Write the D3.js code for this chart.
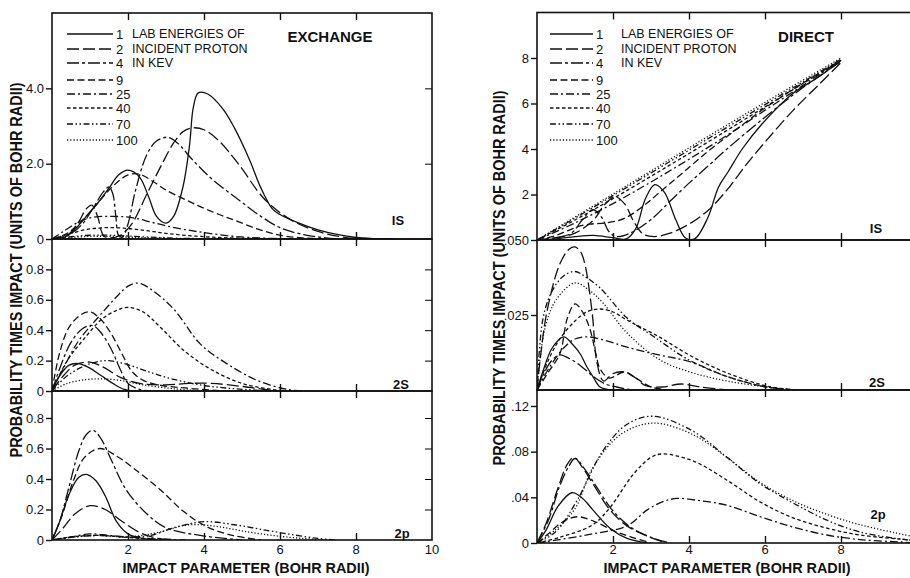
<!DOCTYPE html>
<html>
<head>
<meta charset="utf-8">
<script src="https://cdn.jsdelivr.net/npm/d3@7"></script>
<style>
  body { margin: 0; background: #fff; }
  text { font-family: "Liberation Sans", "DejaVu Sans", sans-serif; fill: #111; }
</style>
</head>
<body>
<script>
var width = 910;
var height = 578;

// lab energies of incident proton (keV), one curve each
var energies = ["1", "2", "4", "9", "25", "40", "70", "100"];

// [impact parameter, probability x impact], order = energies
var exch1S = [
  [[0,0],[0.3,0.03],[0.6,0.25],[0.9,0.6],[1.2,0.95],[1.5,1.35],[1.75,1.7],[2.0,1.83],[2.3,1.65],[2.55,1.1],[2.75,0.6],[3.0,0.42],[3.2,0.6],[3.45,1.4],[3.62,2.5],[3.72,3.5],[3.85,3.88],[4.1,3.85],[4.5,3.45],[4.8,2.95],[5.2,2.1],[5.5,1.35],[5.8,0.8],[6.0,0.65],[6.5,0.42],[7.0,0.24],[7.5,0.12],[8.0,0.04],[8.5,0.01],[9,0]],
  [[0,0],[0.4,0.1],[0.7,0.45],[0.9,0.8],[1.05,0.9],[1.2,0.6],[1.35,0.1],[1.5,0.03],[1.8,0.1],[2.1,0.4],[2.5,1.2],[2.9,2.0],[3.2,2.55],[3.45,2.85],[3.7,2.95],[4.0,2.9],[4.4,2.6],[4.9,2.0],[5.6,1.05],[6.3,0.5],[7.0,0.2],[7.6,0.06],[8.2,0]],
  [[0,0],[0.4,0.08],[0.8,0.4],[1.1,0.85],[1.35,1.25],[1.5,1.38],[1.6,1.2],[1.68,0.6],[1.75,0.1],[1.85,0.05],[2.0,0.4],[2.2,1.3],[2.5,2.25],[2.75,2.6],[3.05,2.7],[3.3,2.55],[3.7,2.1],[4.2,1.6],[4.9,1.05],[5.5,0.6],[6.0,0.3],[6.6,0.12],[7.2,0.03],[7.6,0]],
  [[0,0],[0.4,0.15],[0.8,0.5],[1.2,0.95],[1.6,1.4],[2.0,1.7],[2.3,1.72],[2.7,1.5],[3.0,1.3],[3.5,1.05],[3.9,0.86],[4.4,0.65],[4.8,0.5],[5.4,0.27],[6.0,0.1],[6.6,0.03],[7.2,0]],
  [[0,0],[0.3,0.2],[0.7,0.45],[1.1,0.58],[1.6,0.6],[2.1,0.57],[2.6,0.45],[3.0,0.35],[3.5,0.25],[4.0,0.17],[4.6,0.09],[5.2,0.04],[6.0,0.01],[6.5,0]],
  [[0,0],[0.4,0.12],[0.9,0.25],[1.4,0.3],[2.0,0.28],[2.5,0.22],[3.0,0.15],[3.6,0.09],[4.2,0.05],[5.0,0.02],[6.0,0]],
  [[0,0],[0.5,0.06],[1.0,0.1],[1.5,0.1],[2.0,0.08],[2.6,0.05],[3.3,0.02],[4.0,0.01],[5,0]],
  [[0,0],[0.5,0.04],[1.0,0.07],[1.5,0.07],[2.0,0.05],[2.6,0.03],[3.3,0.01],[4,0]]
];

var exch2S = [
  [[0,0],[0.2,0.1],[0.45,0.17],[0.7,0.18],[1.0,0.15],[1.3,0.1],[1.6,0.05],[1.9,0.01],[2.2,0]],
  [[0,0],[0.3,0.1],[0.6,0.17],[1.0,0.19],[1.4,0.15],[1.8,0.09],[2.3,0.05],[3.0,0.04],[3.6,0.05],[4.2,0.05],[5.0,0.03],[5.6,0.01],[6,0]],
  [[0,0],[0.25,0.18],[0.5,0.32],[0.8,0.41],[1.08,0.43],[1.3,0.38],[1.55,0.28],[1.8,0.14],[2.0,0.05],[2.3,0.01],[2.6,0]],
  [[0,0],[0.2,0.25],[0.45,0.42],[0.75,0.5],[1.0,0.52],[1.25,0.48],[1.55,0.38],[1.85,0.24],[2.1,0.13],[2.4,0.07],[2.8,0.04],[3.5,0.02],[4.5,0]],
  [[0,0],[0.3,0.15],[0.7,0.33],[1.2,0.48],[1.7,0.62],[2.0,0.69],[2.27,0.71],[2.6,0.67],[3.2,0.54],[3.9,0.31],[4.6,0.18],[5.4,0.07],[6.2,0.01],[6.8,0]],
  [[0,0],[0.4,0.2],[0.8,0.33],[1.3,0.47],[1.7,0.53],[2.0,0.55],[2.4,0.52],[2.85,0.42],[3.5,0.26],[4.2,0.14],[5.0,0.05],[5.8,0.01],[6.2,0]],
  [[0,0],[0.4,0.1],[0.9,0.17],[1.4,0.2],[1.9,0.18],[2.5,0.13],[3.0,0.09],[3.9,0.04],[4.8,0.015],[5.8,0]],
  [[0,0],[0.4,0.05],[0.9,0.075],[1.3,0.08],[1.8,0.07],[2.4,0.04],[3.2,0.015],[4,0]]
];

var exch2p = [
  [[0,0],[0.2,0.12],[0.45,0.3],[0.7,0.41],[0.9,0.43],[1.15,0.39],[1.4,0.29],[1.7,0.12],[2.0,0.04],[2.4,0.01],[2.8,0]],
  [[0,0],[0.3,0.08],[0.6,0.17],[1.0,0.225],[1.4,0.2],[1.8,0.13],[2.3,0.05],[2.8,0.01],[3.2,0]],
  [[0,0],[0.2,0.12],[0.45,0.35],[0.7,0.58],[0.9,0.69],[1.08,0.72],[1.3,0.66],[1.55,0.53],[1.95,0.33],[2.5,0.17],[3.0,0.08],[3.9,0.03],[5.0,0]],
  [[0,0],[0.25,0.15],[0.55,0.38],[0.85,0.54],[1.26,0.6],[1.7,0.55],[2.15,0.47],[2.85,0.33],[3.45,0.19],[4.05,0.09],[4.75,0.03],[5.5,0]],
  [[0,0],[0.5,0.02],[1.0,0.04],[1.5,0.03],[2.2,0.015],[3.0,0.005],[3.5,0]],
  [[0,0],[0.5,0.02],[1.1,0.03],[1.6,0.025],[2.3,0.01],[3.0,0]],
  [[0,0],[0.6,0.02],[1.2,0.03],[2.0,0.02],[2.6,0.03],[3.2,0.08],[4.0,0.12],[4.8,0.1],[5.5,0.07],[6.2,0.04],[7.0,0.01],[7.5,0]],
  [[0,0],[0.6,0.02],[1.2,0.03],[2.0,0.02],[2.8,0.05],[3.6,0.1],[4.3,0.09],[5.0,0.06],[5.8,0.03],[6.6,0.01],[7.2,0]]
];

var direct1S = [
  [[0,0],[0.5,0.05],[1.0,0.15],[1.5,0.2],[2.0,0.1],[2.35,0.05],[2.6,0.5],[2.85,1.8],[3.1,2.43],[3.35,2.1],[3.65,0.9],[3.9,0.1],[4.15,0.05],[4.5,1.0],[4.77,2.3],[5.03,3.0],[5.4,4.0],[5.92,5.1],[6.74,6.45],[7.4,7.15],[8.0,7.9]],
  [[0,0],[0.5,0.1],[1.0,0.3],[1.5,0.9],[1.75,1.5],[2.05,1.9],[2.3,1.6],[2.55,0.8],[2.8,0.25],[3.1,0.15],[3.5,0.3],[4.0,0.7],[4.5,1.3],[5.0,2.2],[5.5,3.3],[6.0,4.3],[6.74,5.7],[7.4,6.8],[8.0,7.8]],
  [[0,0],[0.5,0.1],[0.9,0.3],[1.2,0.9],[1.47,1.33],[1.7,1.0],[1.9,0.35],[2.1,0.15],[2.45,0.3],[3.0,0.9],[3.5,1.7],[4.0,2.5],[4.5,3.25],[5.0,4.0],[6.0,5.4],[7.0,6.7],[8.0,7.85]],
  [[0,0],[0.4,0.15],[0.8,0.4],[1.1,0.6],[1.4,0.7],[1.8,0.75],[2.3,0.95],[2.8,1.5],[3.3,2.2],[3.8,2.9],[4.5,3.9],[5.2,4.8],[6.0,5.8],[7.0,6.9],[8.0,7.9]],
  [[0,0],[1,0.75],[2,1.6],[3,2.55],[4,3.55],[5,4.6],[6,5.7],[7,6.8],[8,7.9]],
  [[0,0],[1,0.88],[2,1.82],[3,2.8],[4,3.8],[5,4.82],[6,5.85],[7,6.88],[8,7.92]],
  [[0,0],[1,0.96],[2,1.95],[3,2.95],[4,3.95],[5,4.95],[6,5.95],[7,6.95],[8,7.95]],
  [[0,0],[2,2.02],[4,4.05],[6,6.05],[8,8.0]]
];

var direct2S = [
  [[0,0],[0.15,0.006],[0.4,0.014],[0.7,0.0177],[0.95,0.015],[1.14,0.012],[1.3,0.008],[1.48,0.0043],[1.66,0.001],[2.0,0]],
  [[0,0],[0.1,0.012],[0.26,0.026],[0.6,0.042],[0.85,0.047],[1.0,0.0477],[1.15,0.046],[1.26,0.042],[1.45,0.026],[1.58,0.009],[1.75,0.003],[2.0,0.0055],[2.3,0.006],[2.6,0.004],[2.85,0.0015],[3.3,0.001],[3.8,0.002],[4.3,0.001],[5,0]],
  [[0,0],[0.2,0.006],[0.4,0.01],[0.6,0.0117],[0.85,0.0105],[1.05,0.009],[1.3,0.0065],[1.5,0.0043],[1.8,0.002],[2.1,0.001],[2.5,0]],
  [[0,0],[0.3,0.006],[0.6,0.012],[0.8,0.024],[1.0,0.0287],[1.2,0.026],[1.4,0.02],[1.55,0.012],[1.66,0.007],[1.9,0.004],[2.3,0.006],[2.6,0.004],[3.0,0.001],[3.5,0]],
  [[0,0],[0.3,0.007],[0.7,0.014],[1.0,0.017],[1.35,0.0177],[1.8,0.0165],[2.37,0.0143],[3.2,0.0117],[4.0,0.0095],[5.0,0.0045],[5.9,0.0013],[6.6,0]],
  [[0,0],[0.3,0.01],[0.6,0.017],[1.0,0.023],[1.3,0.026],[1.66,0.027],[2.0,0.026],[2.37,0.0233],[3.2,0.0178],[4.1,0.011],[5.0,0.0057],[6.05,0.0013],[6.8,0]],
  [[0,0],[0.16,0.024],[0.4,0.033],[0.7,0.038],[1.0,0.0395],[1.3,0.0375],[1.66,0.034],[2.37,0.024],[3.05,0.018],[4.0,0.01],[5.0,0.0045],[6.05,0.001],[6.8,0]],
  [[0,0],[0.2,0.02],[0.5,0.03],[1.0,0.0357],[1.4,0.033],[1.74,0.029],[2.37,0.019],[3.24,0.01],[4.1,0.0057],[5.0,0.003],[6.05,0.001],[6.8,0]]
];

var direct2p = [
  [[0,0],[0.25,0.012],[0.55,0.032],[0.92,0.044],[1.2,0.039],[1.47,0.029],[1.92,0.013],[2.37,0.004],[2.9,0]],
  [[0,0],[0.25,0.018],[0.55,0.048],[0.8,0.069],[0.97,0.075],[1.2,0.066],[1.47,0.052],[1.92,0.029],[2.37,0.015],[2.9,0.006],[3.4,0]],
  [[0,0],[0.3,0.02],[0.6,0.05],[0.85,0.068],[1.0,0.074],[1.25,0.065],[1.55,0.05],[2.0,0.028],[2.5,0.013],[3.0,0.005],[3.5,0]],
  [[0,0],[0.3,0.008],[0.65,0.018],[1.05,0.023],[1.5,0.019],[2.0,0.011],[2.5,0.005],[3.0,0]],
  [[0,0],[0.6,0.003],[1.47,0.008],[2.37,0.015],[2.9,0.029],[3.3,0.036],[3.68,0.039],[4.3,0.037],[5.0,0.033],[5.87,0.023],[6.74,0.014],[7.63,0.007],[8.5,0.003],[9.5,0.001],[10,0]],
  [[0,0],[0.6,0.005],[1.47,0.016],[1.92,0.031],[2.53,0.06],[3.0,0.075],[3.3,0.078],[4.1,0.072],[5.0,0.055],[5.87,0.036],[6.74,0.022],[7.63,0.013],[8.5,0.007],[9.7,0.003],[10,0.002]],
  [[0,0],[0.5,0.01],[1.05,0.037],[1.74,0.081],[2.37,0.104],[3.05,0.111],[4.1,0.098],[5.0,0.075],[5.87,0.052],[6.74,0.035],[7.63,0.02],[8.5,0.0096],[9.7,0.003],[10,0.002]],
  [[0,0],[0.5,0.012],[1.0,0.03],[1.47,0.066],[2.2,0.095],[3.05,0.105],[4.1,0.095],[5.0,0.075],[5.87,0.053],[6.74,0.037],[7.63,0.025],[8.5,0.016],[9.7,0.007],[10,0.005]]
];

var xTicks = [2, 4, 6, 8];
var xLabelsLeft = [2, 4, 6, 8, 10];
var xLabelsRight = [2, 4, 6, 8];

// line style per energy
var dashes = ["none", "12,4", "12,3,3,3", "7,3.5", "8,3,2,3", "3.5,2.5", "6,2.5,1.5,2.5,1.5,2.5", "1.2,2"];

var svg = d3.select("body")
   .append("svg")
   .attr("width", width)
   .attr("height", height);

var panels = [
   {id: "l1", x0: 52, x1: 432, top: 13, bot: 239, dom: [0, 6], data: exch1S,
    ticks: [0, 2, 4], fmt: function(d) { return d === 0 ? "0" : d.toFixed(1); }, tag: "IS", tx: 398, ty: 220},
   {id: "l2", x0: 52, x1: 432, top: 239, bot: 391, dom: [0, 1], data: exch2S,
    ticks: [0, 0.2, 0.4, 0.6, 0.8], fmt: function(d) { return d === 0 ? "0" : d.toFixed(1); }, tag: "2S", tx: 401, ty: 384},
   {id: "l3", x0: 52, x1: 432, top: 391, bot: 540, dom: [0, 0.977], data: exch2p,
    ticks: [0, 0.2, 0.4, 0.6, 0.8], fmt: function(d) { return d === 0 ? "0" : d.toFixed(1); }, tag: "2p", tx: 402, ty: 533},
   {id: "r1", x0: 537, x1: 917, top: 12.5, bot: 240, dom: [0, 10], data: direct1S,
    ticks: [2, 4, 6, 8], fmt: function(d) { return d; }, tag: "IS", tx: 876, ty: 228},
   {id: "r2", x0: 537, x1: 917, top: 240, bot: 390, dom: [0, 0.05], data: direct2S,
    ticks: [0.025, 0.05], fmt: function(d) { return d === 0.05 ? ".050" : ".025"; }, tag: "2S", tx: 877, ty: 382},
   {id: "r3", x0: 537, x1: 917, top: 390, bot: 543, dom: [0, 0.134], data: direct2p,
    ticks: [0, 0.04, 0.08, 0.12], fmt: function(d) { return d === 0 ? "0" : d.toFixed(2).replace(/^0/, ""); }, tag: "2p", tx: 878, ty: 514}
];

panels.forEach(function(p) {
   var x = d3.scaleLinear().domain([0, 10]).range([p.x0, p.x1]);
   var y = d3.scaleLinear().domain(p.dom).range([p.bot, p.top]);

   svg.append("clipPath").attr("id", "clip-" + p.id)
      .append("rect")
      .attr("x", p.x0).attr("y", p.top)
      .attr("width", p.x1 - p.x0).attr("height", p.bot - p.top);

   var line = d3.line()
      .x(function(d) { return x(d[0]); })
      .y(function(d) { return y(Math.max(0, d[1])); })
      .curve(d3.curveCatmullRom.alpha(0.5));

   svg.append("g")
      .attr("clip-path", "url(#clip-" + p.id + ")")
      .selectAll("path")
      .data(p.data)
      .enter()
      .append("path")
      .attr("d", line)
      .attr("fill", "none")
      .attr("stroke", "#111")
      .attr("stroke-width", 1.3)
      .attr("stroke-dasharray", function(d, i) { return dashes[i]; });

   // inward x ticks on top and bottom edge
   var gb = svg.append("g").attr("transform", "translate(0," + p.bot + ")")
      .call(d3.axisBottom(x).tickValues(xTicks).tickSizeInner(-7).tickSizeOuter(0).tickFormat(""));
   var gt = svg.append("g").attr("transform", "translate(0," + p.top + ")")
      .call(d3.axisTop(x).tickValues(xTicks).tickSizeInner(-7).tickSizeOuter(0).tickFormat(""));

   // y ticks: outward with labels on the left, inward on the right edge
   var gl = svg.append("g").attr("transform", "translate(" + p.x0 + ",0)")
      .call(d3.axisLeft(y).tickValues(p.ticks).tickSizeInner(6).tickSizeOuter(0).tickPadding(2).tickFormat(p.fmt));
   var gr = svg.append("g").attr("transform", "translate(" + p.x1 + ",0)")
      .call(d3.axisLeft(y).tickValues(p.ticks.filter(function(d) { return d > 0; }))
         .tickSizeInner(7).tickSizeOuter(0).tickFormat(""))
      .selectAll(".tick line").attr("x2", -7);

   [gb, gt, gl].forEach(function(g) {
      g.select(".domain").remove();
      g.selectAll(".tick line").attr("stroke", "#111").attr("stroke-width", 1.4);
      g.selectAll("text").attr("font-size", 13).attr("fill", "#111")
         .attr("font-family", "Liberation Sans, sans-serif");
   });
   svg.selectAll("g .domain").remove();

   svg.append("rect")
      .attr("x", p.x0).attr("y", p.top)
      .attr("width", p.x1 - p.x0).attr("height", p.bot - p.top)
      .attr("fill", "none").attr("stroke", "#111").attr("stroke-width", 1.6);

   svg.append("text")
      .attr("x", p.tx).attr("y", p.ty)
      .attr("dy", "0.35em")
      .attr("text-anchor", "middle")
      .attr("font-size", 13).attr("font-weight", "bold")
      .text(p.tag);
});

// bottom tick labels
var xl = d3.scaleLinear().domain([0, 10]).range([52, 432]);
var xr = d3.scaleLinear().domain([0, 10]).range([537, 917]);
[[xl, xLabelsLeft], [xr, xLabelsRight]].forEach(function(s) {
   svg.append("g").selectAll("text")
      .data(s[1]).enter().append("text")
      .attr("x", function(d) { return s[0](d); })
      .attr("y", 549).attr("dy", "0.35em")
      .attr("text-anchor", "middle")
      .attr("font-size", 13)
      .text(function(d) { return d; });
});

// axis titles
[[246, 16, 270], [727, 499, 278]].forEach(function(t) {
   svg.append("text")
      .attr("x", t[0]).attr("y", 568).attr("dy", "0.35em")
      .attr("text-anchor", "middle")
      .attr("font-size", 15).attr("font-weight", "bold")
      .attr("textLength", 247).attr("lengthAdjust", "spacingAndGlyphs")
      .text("IMPACT PARAMETER (BOHR RADII)");
   svg.append("text")
      .attr("transform", "translate(" + t[1] + "," + t[2] + ") rotate(-90)")
      .attr("dy", "0.35em")
      .attr("text-anchor", "middle")
      .attr("font-size", 16).attr("font-weight", "bold")
      .attr("textLength", 375).attr("lengthAdjust", "spacingAndGlyphs")
      .text("PROBABILITY TIMES IMPACT (UNITS OF BOHR RADII)");
});

// legends
var legendRows = [34, 49, 63, 80, 94, 108, 124, 140];
var legends = [
   {lx0: 67, lx1: 113, tx: 132, title: "EXCHANGE", titleX: 330},
   {lx0: 550, lx1: 593, tx: 621, title: "DIRECT", titleX: 806}
];
legends.forEach(function(L) {
   var g = svg.append("g");
   g.selectAll("line")
      .data(energies).enter().append("line")
      .attr("x1", L.lx0).attr("x2", L.lx1)
      .attr("y1", function(d, i) { return legendRows[i]; })
      .attr("y2", function(d, i) { return legendRows[i]; })
      .attr("stroke", "#111").attr("stroke-width", 1.3)
      .attr("stroke-dasharray", function(d, i) { return dashes[i]; });
   g.selectAll("text.num")
      .data(energies).enter().append("text")
      .attr("class", "num")
      .attr("x", L.lx1 + 3)
      .attr("y", function(d, i) { return legendRows[i]; })
      .attr("dy", "0.35em")
      .attr("font-size", 13)
      .text(function(d) { return d; });
   ["LAB ENERGIES OF", "INCIDENT PROTON", "IN KEV"].forEach(function(s, i) {
      g.append("text")
         .attr("x", L.tx).attr("y", legendRows[i]).attr("dy", "0.35em")
         .attr("font-size", 12.5)
         .text(s);
   });
   g.append("text")
      .attr("x", L.titleX).attr("y", 37).attr("dy", "0.35em")
      .attr("text-anchor", "middle")
      .attr("font-size", 15).attr("font-weight", "bold")
      .text(L.title);
});
</script>
</body>
</html>
